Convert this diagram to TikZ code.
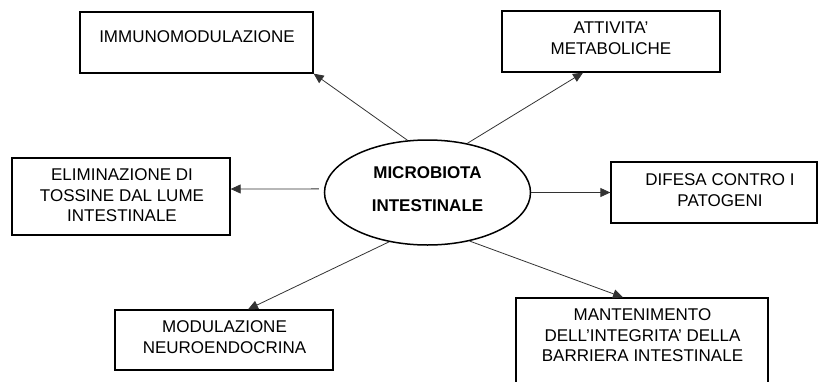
\documentclass[tikz,border=0pt]{standalone}
\usepackage{fontspec}
\setmainfont{Liberation Sans}
\usetikzlibrary{arrows.meta,shapes.geometric}
\tikzset{
  box/.style={draw=black, line width=1.3pt, inner sep=0pt},
  ell/.style={draw=black, ellipse, line width=1.5pt, inner sep=0pt, minimum width=206pt, minimum height=105pt},
  txt/.style={inner sep=0pt, align=center, font=\fontsize{17}{20.5}\selectfont},
  btxt/.style={inner sep=0pt, align=center, font=\fontsize{17}{33}\selectfont\bfseries},
  conn/.style={draw=black!80, line width=0.8pt, -{Triangle[length=10pt,width=9pt]}}
}
\begin{document}
\begin{tikzpicture}[x=1pt,y=-1pt]
\useasboundingbox (0,0) rectangle (820,381);
\clip (0,0) rectangle (820,381);
% boxes
\node[box, minimum width=233pt, minimum height=61pt] (imm) at (196.5,42.5) {};
\node[box, minimum width=218pt, minimum height=61pt] (att) at (611,41.5) {};
\node[box, minimum width=218pt, minimum height=77pt] (elim) at (121,196.5) {};
\node[box, minimum width=206pt, minimum height=61pt] (dif) at (714,192.5) {};
\node[box, minimum width=218pt, minimum height=60pt] (mod) at (224,340) {};
\node[box, minimum width=252pt, minimum height=100pt] (man) at (642,348) {};
% texts
\node[txt] (immt) at (197,37) {IMMUNOMODULAZIONE};
\node[txt] (attt) at (611,38.3) {ATTIVITA'\\METABOLICHE};
\node[txt] (elimt) at (122,195.3) {ELIMINAZIONE DI\\TOSSINE DAL LUME\\INTESTINALE};
\node[txt] (dift) at (720,190) {DIFESA CONTRO I\\PATOGENI};
\node[txt] (modt) at (224.5,337) {MODULAZIONE\\NEUROENDOCRINA};
\node[txt] (mant) at (642.5,335.3) {MANTENIMENTO\\DELL'INTEGRITA' DELLA\\BARRIERA INTESTINALE};
% center
\node[ell] (mb) at (427.5,192.5) {};
\node[btxt] (mbt) at (427.5,189.5) {MICROBIOTA\\INTESTINALE};
% connectors
\draw[conn] (mb.111) -- (imm.south east);
\draw[conn] (mb.51) -- ([xshift=-28pt]att.south);
\draw[conn] ([xshift=-5pt]mb.178) -- ([yshift=7.5pt]elim.east);
\draw[conn] (mb.east) -- (dif.west);
\draw[conn] (mb.232) -- ([xshift=24pt]mod.north);
\draw[conn] (mb.311) -- ([xshift=-19pt]man.north);
\end{tikzpicture}
\end{document}
